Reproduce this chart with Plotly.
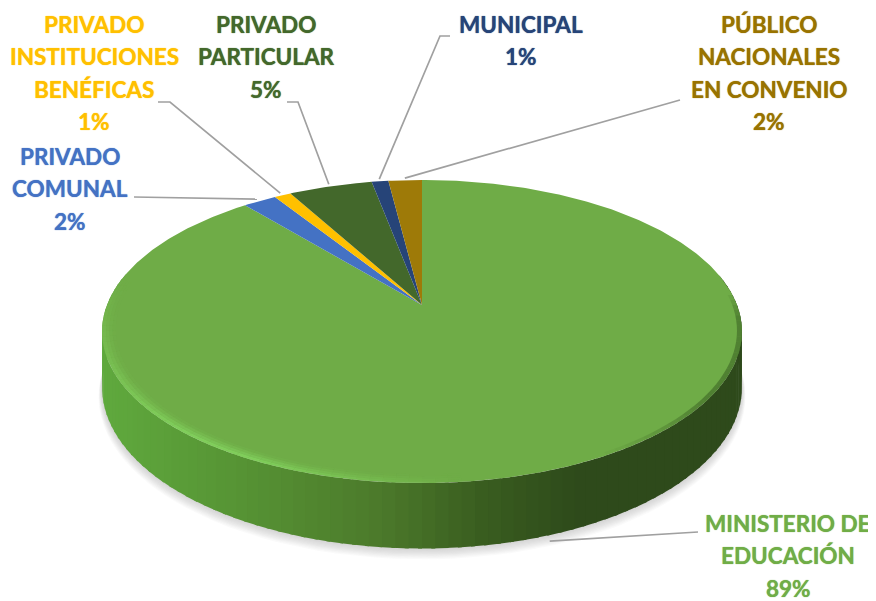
import math
import plotly.graph_objects as go

# ---- data (clockwise from 12 o'clock) ----
categories = ["MINISTERIO DE EDUCACIÓN", "PRIVADO COMUNAL", "PRIVADO INSTITUCIONES BENÉFICAS",
              "PRIVADO PARTICULAR", "MUNICIPAL", "PÚBLICO NACIONALES EN CONVENIO"]
values = [89, 2, 1, 5, 1, 2]
colors = ["#6FAC47", "#4472C4", "#FFC000", "#43682B", "#264478", "#9E7A08"]
label_lines = [["MINISTERIO DE", "EDUCACIÓN"], ["PRIVADO", "COMUNAL"],
               ["PRIVADO", "INSTITUCIONES", "BENÉFICAS"], ["PRIVADO", "PARTICULAR"],
               ["MUNICIPAL"], ["PÚBLICO", "NACIONALES", "EN CONVENIO"]]
label_colors = ["#70AD47", "#4472C4", "#FFC000", "#43682B", "#264478", "#997300"]
label_x = [788, 70, 94, 266, 521, 769]
label_y0 = [523, 156, 24, 24, 24, 24]
label_dy = 32.5

# leader elbow points, label side, then the rim end is derived from the slice
leader_elbows = [[(698, 532)], [(134, 197)], [(158, 102), (170, 102)], [(287, 102), (298, 102)],
                 [(450, 36), (440, 36)], [(680, 100)]]

# ---- projection of the tilted disc into the plot ----
CX, CY, RX, A, K, H = 422, 305, 315, 146.9, 0.175, 54
PAGE_MARGIN = 8  # the page body's own margin; axes keep picture pixels as their units


def project(deg, r=1.0, z=0.0):
    t = math.radians(deg)
    X, Y = r * math.sin(t), r * math.cos(t)
    s = 1 / (1 + K * Y)
    return CX + RX * X * s, CY - A * Y * s + z * s


def mix(c1, c2, f):
    return tuple(c1[i] + (c2[i] - c1[i]) * f for i in range(3))


def poly(fig, pts, color):
    fig.add_trace(go.Scatter(x=[p[0] for p in pts], y=[p[1] for p in pts], mode="lines",
                             fill="toself", fillcolor=color, line=dict(width=0),
                             hoverinfo="skip", showlegend=False))


def line(fig, pts, color="#A0A0A0", width=1.7):
    fig.add_trace(go.Scatter(x=[p[0] for p in pts], y=[p[1] for p in pts], mode="lines",
                             line=dict(color=color, width=width),
                             hoverinfo="skip", showlegend=False))


fig = go.Figure()

# soft shadow
for i in range(9, 0, -1):
    g = i * 1.1
    pts = []
    for d in range(70, 291, 3):
        x, y = project(d, 1.0, H + g * 0.9)
        pts.append((CX + (x - CX) * (1 + g * 0.0011), y))
    pts.append((CX, CY))
    poly(fig, pts, "rgba(130,130,150,0.045)")

# side wall with horizontal shading
stops = [(101, (96, 170, 62)), (250, (86, 146, 52)), (380, (76, 122, 43)), (480, (58, 94, 32)),
         (580, (46, 74, 27)), (742, (47, 74, 28))]


def wall_color(x):
    for (x0, c0), (x1, c1) in zip(stops, stops[1:]):
        if x <= x1:
            c = mix(c0, c1, max(0, (x - x0) / (x1 - x0)))
            return "rgb(%d,%d,%d)" % c
    return "rgb(%d,%d,%d)" % stops[-1][1]


STEP = 2
for d in range(78, 282, STEP):
    a, b = d, d + STEP + 0.6
    xm = project(d + STEP / 2)[0]
    poly(fig, [project(a), project(b), project(b, 1, H), project(a, 1, H)], wall_color(xm))

# top face: one wedge per value
total = sum(values)
start = 0.0
mids = []
for v, c in zip(values, colors):
    end = start + 360.0 * v / total
    n = max(4, int((end - start) * 1.5))
    rim = [project(start + (end - start) * i / n) for i in range(n + 1)]
    poly(fig, [(CX, CY)] + rim, c)
    mids.append((start + end) / 2)
    start = end

# bright bevel on the front-left rim, soft in both directions
bands = [(0.958, 0.968, 0.10), (0.968, 0.978, 0.28), (0.978, 0.988, 0.55), (0.988, 1.0, 0.8)]
for d in range(172, 282, 2):
    f = max(0.0, min(1.0, (d - 172) / 34)) * max(0.0, min(1.0, (280 - d) / 60))
    for r0, r1, w in bands:
        poly(fig, [project(d, r0), project(d + 2, r0), project(d + 2, r1), project(d, r1)],
             "rgba(132,214,96,%.3f)" % (w * f))
# dark edge on the right rim
for d in range(84, 150, 2):
    f = max(0.0, min(1.0, (d - 84) / 10)) * max(0.0, min(1.0, (150 - d) / 25))
    poly(fig, [project(d, 0.985), project(d + 2, 0.985), project(d + 2, 1.0), project(d, 1.0)],
         "rgba(50,85,30,%.3f)" % (0.5 * f))

# leader lines end at each slice's mid-angle, just outside the solid
for i in range(len(values)):
    if i == 0:
        end_pt = project(mids[i], 1.0, H + 5)
    else:
        end_pt = project(mids[i], 1.02, 0)
    line(fig, leader_elbows[i] + [end_pt])

# labels
annotations = []
for i, lines in enumerate(label_lines):
    texts = lines + ["%d%%" % round(100 * values[i] / total)]
    for j, t in enumerate(texts):
        annotations.append(dict(x=label_x[i], y=label_y0[i] + j * label_dy, text=t, xref="x", yref="y",
                                showarrow=False, xanchor="center", yanchor="middle",
                                font=dict(family="Lato", size=22.5, color=label_colors[i], weight="bold",
                                          shadow="0 0 1px " + label_colors[i])))

fig.update_layout(
    width=876 - PAGE_MARGIN, height=601 - PAGE_MARGIN, margin=dict(l=0, r=0, t=0, b=0),
    paper_bgcolor="white", plot_bgcolor="white", showlegend=False,
    xaxis=dict(range=[PAGE_MARGIN, 876], visible=False, fixedrange=True),
    yaxis=dict(range=[601, PAGE_MARGIN], visible=False, fixedrange=True),
    annotations=annotations,
)
fig.write_html("out.html", config=dict(displayModeBar=False))
